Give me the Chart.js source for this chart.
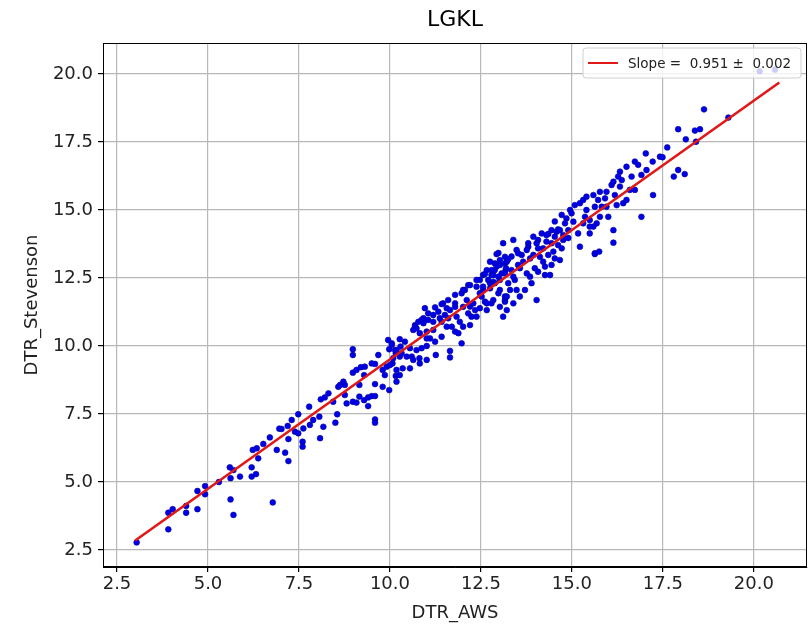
<!DOCTYPE html>
<html><head><meta charset="utf-8">
<script src="https://cdn.jsdelivr.net/npm/chart.js@4/dist/chart.umd.min.js"></script>
<style>html,body{margin:0;padding:0;background:#fff}#wrap{width:812px;height:630px}</style>
</head><body><div id="wrap"><canvas id="c" width="812" height="630"></canvas></div>
<script>
const chartTitle = "LGKL";
const xAxisLabel = "DTR_AWS";
const yAxisLabel = "DTR_Stevenson";
const legendLabel = "Slope =  0.951 \u00b1  0.002";
const xTickValues = [2.5, 5.0, 7.5, 10.0, 12.5, 15.0, 17.5, 20.0];
const yTickValues = [2.5, 5.0, 7.5, 10.0, 12.5, 15.0, 17.5, 20.0];
const fitX = [3.0, 20.7];
const fitY = [2.85, 19.69];
const awsX = [
3.04,3.91,3.91,4.03,4.40,4.40,4.71,4.71,4.92,4.92,5.30,5.62,5.70,5.60,5.62,5.70,5.88,6.20,6.20,6.32,
6.23,6.34,6.38,6.52,6.70,6.78,6.89,7.02,7.12,7.21,7.21,7.30,7.39,7.48,7.60,7.60,7.62,7.78,7.80,7.89,
8.06,8.08,8.17,8.31,8.44,8.50,8.55,8.58,8.76,8.81,6.96,7.19,7.48,8.10,8.21,8.72,8.76,8.63,
8.98,8.98,8.98,9.08,9.20,9.31,9.16,9.16,9.29,9.40,9.50,9.59,9.40,9.29,9.50,9.59,9.59,9.68,9.59,9.59,
9.80,9.80,9.91,9.98,10.05,10.16,10.18,9.98,10.07,10.16,10.18,8.98,9.08,
10.09,10.14,10.27,10.41,10.29,10.27,10.35,10.55,10.60,10.73,10.81,10.87,11.01,11.26,11.65,11.65,11.97,
10.64,10.69,10.78,10.92,11.01,11.10,11.19,11.19,11.33,11.46,11.56,11.60,11.70,11.79,11.83,11.92,
11.97,12.06,12.11,12.20,12.24,12.34,12.38,12.47,12.52,12.61,12.66,12.75,12.79,12.88,12.93,12.98,
13.02,13.11,13.16,13.16,13.18,10.96,11.42,12.15,11.79,12.66,12.56,
12.56,12.70,12.84,12.79,12.98,13.02,13.16,13.16,13.21,13.34,13.34,13.43,13.48,13.52,13.57,13.62,
13.71,13.76,13.80,13.85,13.89,13.94,13.98,14.03,14.07,14.17,14.21,14.26,14.30,14.40,14.44,14.49,
14.53,14.62,14.67,14.72,14.76,14.81,14.90,14.95,15.04,15.08,15.17,15.22,15.31,15.36,15.49,15.59,
15.63,15.22,14.58,13.39,13.11,
15.31,15.40,15.49,15.59,15.72,15.77,15.91,15.95,15.95,16.00,16.14,16.09,16.14,16.18,16.23,16.27,
16.32,16.32,16.37,16.41,16.50,16.50,16.59,16.64,16.73,16.73,16.82,16.91,16.91,17.03,17.05,17.22,
17.23,17.42,17.62,17.80,17.92,18.10,17.92,18.13,18.38,15.63,15.75,16.14,
18.63,18.52,19.30,17.49,18.41,20.16,20.58,
10.69,10.87,11.05,11.24,11.42,11.60,11.79,12.01,12.20,12.38,12.61,12.79,13.02,13.25,13.52,13.80,14.07,14.35,14.62,
12.01,12.15,12.29,12.47,12.56,12.75,12.84,12.98,13.07,13.19,12.88,13.02,13.16,
11.56,11.88,12.01,12.20,12.38,12.47,12.66,12.84,13.02,13.16,13.21,
10.92,11.05,11.19,11.37,11.51,11.65,11.79,
10.73,10.82,11.01,11.24,11.42,
9.95,10.05,10.18,10.32,10.46,10.64,10.82,10.00,9.86,10.27,10.55,11.01,
12.75,12.93,12.88,13.02,13.25,13.30,13.39,13.66,13.76,13.94,14.03,14.12,14.21,14.30,14.35,14.44,14.53,14.67,14.76,14.85,14.90,14.99,
13.57,13.85,14.07,14.44,14.53,14.72,14.26,13.48,13.39,13.21,
15.40,15.63,15.77,15.49,15.68,15.82
];
const stevensonY = [
2.78,3.26,3.87,4.00,3.87,4.12,4.00,4.67,4.85,4.55,5.00,4.36,3.79,5.54,5.14,5.44,5.20,5.54,5.20,5.29,
6.18,6.24,5.87,6.40,6.64,4.25,6.18,6.95,6.08,5.77,6.58,7.28,6.85,7.49,6.48,6.30,6.97,7.77,7.10,7.28,
7.40,6.61,7.03,8.26,7.95,7.18,7.49,8.50,8.57,7.89,6.96,7.06,6.79,8.04,8.11,8.69,8.20,8.57,
9.67,9.88,9.02,9.12,9.22,9.24,8.57,8.14,8.01,8.11,8.16,8.16,7.79,8.93,9.36,9.34,8.60,9.67,7.30,7.18,
9.12,8.50,9.24,9.88,10.10,8.90,8.69,8.38,9.36,9.73,9.12,7.95,7.92,
9.55,9.85,10.25,10.16,9.98,9.61,9.18,9.92,9.61,9.85,9.55,9.92,10.00,9.67,9.82,9.58,10.10,
10.59,10.77,10.89,11.02,10.53,10.28,10.59,11.14,11.26,11.57,11.39,11.02,10.71,10.53,11.08,10.89,
11.94,12.06,11.69,11.45,11.08,11.32,12.18,12.43,11.82,11.63,11.32,12.31,12.61,12.79,13.38,11.94,
12.43,11.08,11.63,13.04,12.79,11.39,10.89,12.24,11.57,12.79,12.61,
12.06,12.43,12.61,11.57,13.42,12.98,12.67,11.69,13.10,13.29,12.79,12.43,13.53,12.98,11.82,13.35,
12.06,12.67,13.78,13.22,12.31,14.02,12.86,11.69,13.59,14.14,13.10,12.61,13.84,12.61,14.26,13.47,
14.58,13.71,13.16,14.82,14.08,14.51,13.97,15.00,14.57,15.18,14.14,13.65,15.37,14.75,14.39,15.55,
13.41,15.25,14.20,13.90,13.78,
14.51,15.00,14.63,14.39,15.37,15.67,15.43,15.12,15.67,14.75,14.26,15.92,16.04,15.55,15.18,16.23,
16.41,15.86,16.10,15.25,15.37,16.59,15.74,16.23,16.78,15.74,16.66,16.29,14.75,17.08,16.47,16.78,
15.55,16.96,17.30,16.23,16.47,16.32,17.97,17.60,17.92,13.38,13.47,13.80,
18.70,17.97,18.40,16.94,17.51,20.10,20.16,
10.71,10.96,11.20,11.42,11.54,11.69,11.88,12.06,12.24,12.43,12.65,12.79,13.01,13.19,13.41,13.65,13.90,14.12,14.29,
11.44,11.20,11.57,11.94,12.18,12.12,12.36,12.55,12.67,12.86,13.04,13.16,13.28,
10.71,10.47,10.71,10.77,11.08,11.39,11.57,11.69,11.44,11.82,11.32,
10.84,10.96,10.89,11.02,11.14,11.32,11.44,
10.65,10.47,10.28,10.16,10.34,
10.22,10.04,9.85,9.73,9.61,9.49,9.36,9.30,8.93,8.93,9.18,9.49,
13.10,12.92,12.31,12.06,12.31,12.06,12.55,13.10,13.53,13.35,13.78,13.28,13.59,14.08,13.35,13.78,14.02,14.26,13.90,14.69,14.26,14.88,
12.86,12.55,12.73,12.98,13.22,13.59,12.92,12.06,11.57,11.82,
15.49,15.12,14.75,14.14,14.51,15.12
];

const scatterPoints = awsX.map((x, i) => ({x: x, y: stevensonY[i]}));
const fitPoints = fitX.map((x, i) => ({x: x, y: fitY[i]}));

const FONT = "'DejaVu Sans', sans-serif";

const framePlugin = {
  id: 'frame',
  afterDatasetsDraw(chart) {
    const a = chart.chartArea, ctx = chart.ctx;
    ctx.save();
    ctx.strokeStyle = '#000';
    ctx.lineWidth = 1;
    ctx.strokeRect(Math.round(a.left) + 0.5, Math.round(a.top) + 0.5, Math.round(a.right - a.left) - 1, Math.round(a.bottom - a.top) - 1);
    ctx.restore();
  }
};

const legendBoxPlugin = {
  id: 'legendBox',
  afterDraw(chart) {
    const ctx = chart.ctx;
    const a = chart.chartArea;
    const w = 218, h = 30;
    const x = a.right - 6 - w, y = a.top + 5;
    ctx.save();
    ctx.beginPath();
    const r = 3;
    ctx.moveTo(x + r, y);
    ctx.lineTo(x + w - r, y); ctx.quadraticCurveTo(x + w, y, x + w, y + r);
    ctx.lineTo(x + w, y + h - r); ctx.quadraticCurveTo(x + w, y + h, x + w - r, y + h);
    ctx.lineTo(x + r, y + h); ctx.quadraticCurveTo(x, y + h, x, y + h - r);
    ctx.lineTo(x, y + r); ctx.quadraticCurveTo(x, y, x + r, y);
    ctx.closePath();
    ctx.fillStyle = 'rgba(255,255,255,0.8)';
    ctx.fill();
    ctx.strokeStyle = '#d0d0d0';
    ctx.lineWidth = 1;
    ctx.stroke();
    const ds = chart.data.datasets[0];
    ctx.strokeStyle = ds.borderColor;
    ctx.lineWidth = 2;
    ctx.beginPath();
    ctx.moveTo(x + 5, y + h / 2);
    ctx.lineTo(x + 35, y + h / 2);
    ctx.stroke();
    ctx.fillStyle = '#222';
    ctx.font = "13.5px " + FONT;
    ctx.textBaseline = 'middle';
    ctx.textAlign = 'left';
    ctx.fillText(ds.label, x + 45, y + h / 2 + 1);
    ctx.restore();
  }
};

new Chart(document.getElementById('c'), {
  type: 'scatter',
  data: {
    datasets: [
      {
        type: 'line',
        label: legendLabel,
        data: fitPoints,
        borderColor: '#e01818',
        borderWidth: 2.6,
        pointRadius: 0,
        showLine: true,
        fill: false,
        order: 0
      },
      {
        label: 'points',
        data: scatterPoints,
        backgroundColor: '#0000e8',
        borderColor: '#00009a',
        borderWidth: 0.6,
        pointRadius: 2.9,
        order: 1
      }
    ]
  },
  options: {
    responsive: false,
    animation: false,
    devicePixelRatio: 1,
    layout: { padding: { left: 0, right: 5, top: 0, bottom: 0 } },
    plugins: {
      legend: { display: false },
      tooltip: { enabled: false },
      title: {
        display: true,
        text: chartTitle,
        fullSize: false,
        color: '#000',
        font: { family: FONT, size: 22, weight: 'normal', lineHeight: 1.2 },
        padding: { top: 7, bottom: 9.6 }
      }
    },
    scales: {
      x: {
        type: 'linear',
        min: 2.115,
        max: 21.46,
        afterBuildTicks(scale) { scale.ticks = xTickValues.map(v => ({ value: v })); },
        afterFit(scale) { scale.height = 63; },
        ticks: {
          autoSkip: false,
          color: '#222',
          padding: 2,
          font: { family: FONT, size: 18 },
          callback: v => Number(v).toFixed(1)
        },
        grid: { color: '#b8b8b8', lineWidth: 1.2, tickColor: '#000', tickLength: 5, drawTicks: true },
        border: { display: true, color: '#000', width: 1 },
        title: {
          display: true, text: xAxisLabel, color: '#222',
          font: { family: FONT, size: 18, lineHeight: 1.2 },
          padding: { top: 0, bottom: 6 }
        }
      },
      y: {
        type: 'linear',
        min: 1.875,
        max: 21.14,
        afterBuildTicks(scale) { scale.ticks = yTickValues.map(v => ({ value: v })); },
        afterFit(scale) { scale.width = 103; },
        ticks: {
          autoSkip: false,
          color: '#222',
          padding: 5,
          font: { family: FONT, size: 18 },
          callback: v => Number(v).toFixed(1)
        },
        grid: { color: '#b8b8b8', lineWidth: 1.2, tickColor: '#000', tickLength: 5, drawTicks: true },
        border: { display: true, color: '#000', width: 1 },
        title: {
          display: true, text: yAxisLabel, color: '#222',
          font: { family: FONT, size: 18, lineHeight: 1.2 },
          padding: { top: 22, bottom: 0 }
        }
      }
    }
  },
  plugins: [framePlugin, legendBoxPlugin]
});
</script>
</body></html>
